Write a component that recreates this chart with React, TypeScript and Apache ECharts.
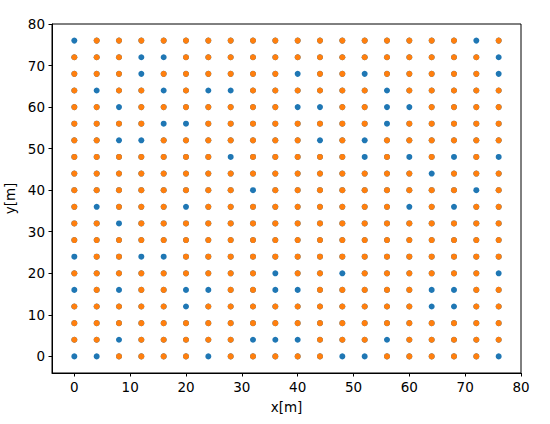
import React, { useEffect, useRef } from "react";
import * as echarts from "echarts";

const xPositions = [0, 4, 8, 12, 16, 20, 24, 28, 32, 36, 40, 44, 48, 52, 56, 60, 64, 68, 72, 76];
const yPositions = [0, 4, 8, 12, 16, 20, 24, 28, 32, 36, 40, 44, 48, 52, 56, 60, 64, 68, 72, 76];
const xTicks = [0, 10, 20, 30, 40, 50, 60, 70, 80];
const yTicks = [0, 10, 20, 30, 40, 50, 60, 70, 80];

// blue-only positions (not covered by orange), read per row: [y, x...]
const blueOnly: number[][] = [
  [76, 0, 72],
  [72, 12, 16, 76],
  [68, 12, 40, 52, 76],
  [64, 4, 16, 24, 28, 56],
  [60, 8, 40, 44, 56, 60],
  [56, 16, 20, 56],
  [52, 8, 12, 44, 52],
  [48, 28, 52, 60, 68, 76],
  [44, 64],
  [40, 32, 72],
  [36, 4, 20, 60, 68],
  [32, 8],
  [28],
  [24, 0, 12, 16],
  [20, 36, 48, 76],
  [16, 0, 8, 20, 24, 36, 40, 64, 68],
  [12, 20, 64, 68],
  [8],
  [4, 8, 32, 36, 40, 56],
  [0, 0, 4, 24, 48, 52, 76],
];

export default function App() {
  const ref = useRef<HTMLDivElement>(null);
  useEffect(() => {
    if (!ref.current) return;
    const chart = echarts.init(ref.current, null, { renderer: "svg" });
    const blueSet = new Set<string>();
    blueOnly.forEach((row) => {
      const y = row[0];
      row.slice(1).forEach((x) => blueSet.add(x + "," + y));
    });
    const allPts: number[][] = [];
    const orangePts: number[][] = [];
    yPositions.forEach((y) =>
      xPositions.forEach((x) => {
        allPts.push([x, y]);
        if (!blueSet.has(x + "," + y)) orangePts.push([x, y]);
      })
    );
    const font = "DejaVu Sans";
    const axisCommon = {
      type: "value" as const,
      min: -4,
      max: 80,
      splitLine: { show: false },
      axisLine: { show: true, onZero: false, lineStyle: { color: "#000", width: 1 } },
      axisTick: { show: true, length: 3.5, lineStyle: { color: "#000" } },
      nameLocation: "middle" as const,
      nameTextStyle: { color: "#000", fontFamily: font, fontSize: 13.5 },
    };
    chart.setOption({
      animation: false,
      backgroundColor: "#fff",
      grid: {
        left: 52,
        right: 29,
        top: 24,
        bottom: 51,
        show: true,
        borderColor: "#000",
        borderWidth: 1,
        backgroundColor: "transparent",
        containLabel: false,
        outerBoundsMode: "none",
      },
      xAxis: {
        ...axisCommon,
        name: "x[m]",
        nameGap: 27,
        axisTick: { ...axisCommon.axisTick, customValues: xTicks },
        axisLabel: {
          customValues: xTicks,
          margin: 7,
          color: "#000",
          fontFamily: font,
          fontSize: 13.5,
        },
      },
      yAxis: {
        ...axisCommon,
        name: "y[m]",
        nameGap: 25,
        nameRotate: 90,
        axisTick: { ...axisCommon.axisTick, customValues: yTicks },
        axisLabel: {
          customValues: yTicks,
          margin: 7,
          color: "#000",
          fontFamily: font,
          fontSize: 13.5,
        },
      },
      series: [
        {
          type: "scatter",
          data: allPts,
          symbolSize: 6,
          itemStyle: { color: "#1f77b4", opacity: 1 },
        },
        {
          type: "scatter",
          data: orangePts,
          symbolSize: 6,
          itemStyle: { color: "#ff7f0e", opacity: 1 },
        },
      ],
    });
    return () => chart.dispose();
  }, []);
  return <div ref={ref} style={{ width: 550, height: 424, position: "absolute", left: 0, top: 0 }} />;
}
